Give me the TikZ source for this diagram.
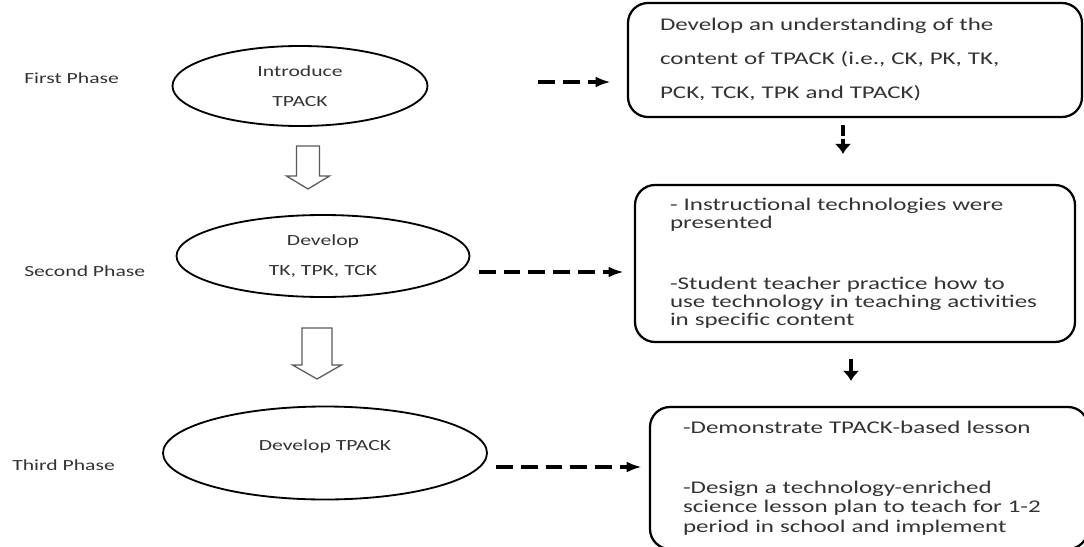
\documentclass[tikz,border=0pt]{standalone}
\usepackage{fontspec}
\setmainfont{Carlito}[FakeStretch=1.4]
\usetikzlibrary{shapes,arrows.meta}
\newcommand{\hollowdown}[6]{%
  \draw[hollow] (#1-#5,#2) -- (#1-#5,#3) -- (#1-#6,#3) -- (#1,#4)
    -- (#1+#6,#3) -- (#1+#5,#3) -- (#1+#5,#2) -- cycle;}

\begin{document}
\begin{tikzpicture}[
  phase/.style={anchor=west,inner sep=0pt,text=black!80,font=\fontsize{11}{13}\selectfont},
  oval/.style={ellipse,draw,line width=1.3pt,inner sep=0pt,align=center,text=black!80,font=\fontsize{11}{21.3}\selectfont},
  roundbox/.style={rectangle,rounded corners=0.5cm,draw,line width=1.6pt,align=left,inner ysep=0pt,text=black!80},
  dasharrow/.style={line width=2.2pt,dash pattern=on 0.42cm off 0.2cm,-{Latex[length=0.38cm,width=0.27cm]}},
  downarrow/.style={line width=3.5pt,-{Latex[length=0.25cm,width=0.42cm]}},
  hollow/.style={draw=black!65,line width=0.9pt}]
\useasboundingbox (0,0) rectangle (27.1,-13.65);
% phase labels
\node[phase] (P1) at (0.6,-1.95) {First Phase};
\node[phase] (P2) at (0.6,-6.775) {Second Phase};
\node[phase] (P3) at (0.3,-11.625) {Third Phase};
% phases
\node[oval,minimum width=6.375cm,minimum height=2cm] (I1) at (7.5,-2.15) {Introduce\\TPACK};
\node[oval,minimum width=7.325cm,minimum height=2.05cm] (D2) at (8.075,-6.4) {Develop\\TK, TPK, TCK};
\node[oval,minimum width=8.1cm,minimum height=2.325cm,text height=8pt,text depth=12pt] (D3) at (8.125,-11.325) {Develop TPACK};
% activities
\node[roundbox,minimum width=11.35cm,minimum height=2.85cm,inner xsep=0.8cm,text width=9.75cm,
  font=\fontsize{12.7}{24.2}\selectfont] (B1) at (21.375,-1.5)
  {Develop an understanding of the\\content of TPACK (i.e., CK, PK, TK,\\PCK, TCK, TPK and TPACK)};
\node[roundbox,minimum width=11cm,minimum height=3.925cm,inner xsep=0.875cm,text width=9.25cm,
  font=\fontsize{12.7}{13}\selectfont] (B2) at (21.375,-6.5875)
  {- Instructional technologies were\\presented\\[30pt]-Student teacher practice how to\\use technology in teaching activities\\in specific content};
\node[roundbox,minimum width=10.95cm,minimum height=3.55cm,inner xsep=0.825cm,text width=9.3cm,
  font=\fontsize{12.7}{13.9}\selectfont] (B3) at (21.725,-11.95)
  {-Demonstrate TPACK-based lesson\\[29pt]-Design a technology-enriched\\science lesson plan to teach for 1-2\\period in school and implement};
% connectors
\draw[dasharrow,shorten <=2.75cm,shorten >=0.4cm] ([yshift=1mm]I1.east) -- ([yshift=1mm]I1.east -| B1.west);
\draw[dasharrow,shorten <=0.21cm,shorten >=0.25cm] ([yshift=-4mm]D2.east) -- ([yshift=-4mm]D2.east -| B2.west);
\draw[dasharrow,shorten <=0.2cm,shorten >=0.175cm] ([yshift=-3.5mm]D3.east) -- ([yshift=-3.5mm]D3.east -| B3.west);
\draw[downarrow,dash pattern=on 0.275cm off 0.075cm,shorten <=0.175cm,shorten >=0.75cm] ([xshift=-3mm]B1.south) -- ([xshift=-3mm]B2.north);
\draw[downarrow,shorten <=0.4cm,shorten >=0.625cm] ([xshift=-1mm]B2.south) -- ([xshift=-1mm]B2.south |- B3.north);
% block arrows between phases
\hollowdown{7.7}{-3.65}{-4.4}{-4.725}{0.2875}{0.5375}
\hollowdown{7.925}{-8.2}{-9.125}{-9.475}{0.375}{0.6125}
\end{tikzpicture}
\end{document}
